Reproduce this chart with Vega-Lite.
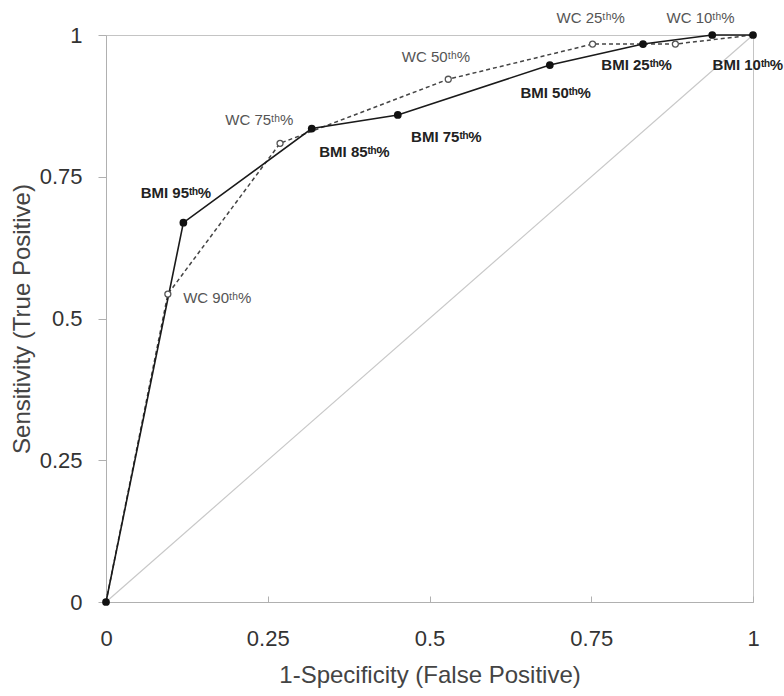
{
  "$schema": "https://vega.github.io/schema/vega-lite/v6.json",
  "width": 647,
  "height": 567,
  "autosize": {"type": "none"},
  "padding": {"left": 106, "top": 35, "right": 31, "bottom": 94},
  "background": "white",
  "config": {
    "font": "Liberation Sans",
    "view": {"stroke": "#c4c4c4", "strokeWidth": 1},
    "axis": {"grid": false, "labelFlush": false, "domainColor": "#b0b0b0", "tickColor": "#b0b0b0", "labelColor": "#333333", "titleColor": "#444444", "labelFontSize": 22, "titleFontSize": 24, "titleFontWeight": "normal", "labelFont": "Liberation Sans", "titleFont": "Liberation Sans"}
  },
  "datasets": {
    "curves": [
      {"series": "BMI", "order": 0, "x": 0, "y": 0},
      {"series": "BMI", "order": 1, "x": 0.1196, "y": 0.669},
      {"series": "BMI", "order": 2, "x": 0.318, "y": 0.835},
      {"series": "BMI", "order": 3, "x": 0.451, "y": 0.859},
      {"series": "BMI", "order": 4, "x": 0.686, "y": 0.947},
      {"series": "BMI", "order": 5, "x": 0.830, "y": 0.984},
      {"series": "BMI", "order": 6, "x": 0.937, "y": 1.0},
      {"series": "BMI", "order": 7, "x": 1, "y": 1},
      {"series": "WC", "order": 0, "x": 0, "y": 0},
      {"series": "WC", "order": 1, "x": 0.0956, "y": 0.543},
      {"series": "WC", "order": 2, "x": 0.269, "y": 0.809},
      {"series": "WC", "order": 3, "x": 0.529, "y": 0.922},
      {"series": "WC", "order": 4, "x": 0.752, "y": 0.984},
      {"series": "WC", "order": 5, "x": 0.880, "y": 0.984},
      {"series": "WC", "order": 6, "x": 1, "y": 1}
    ],
    "diag": [
      {"x": 0, "y": 0},
      {"x": 1, "y": 1}
    ],
    "labels": [
      {"series": "WC", "text": "WC 25ᵗʰ%", "x": 0.749, "y": 1.030},
      {"series": "WC", "text": "WC 10ᵗʰ%", "x": 0.919, "y": 1.030},
      {"series": "WC", "text": "WC 50ᵗʰ%", "x": 0.510, "y": 0.961},
      {"series": "WC", "text": "WC 75ᵗʰ%", "x": 0.237, "y": 0.850},
      {"series": "WC", "text": "WC 90ᵗʰ%", "x": 0.172, "y": 0.536},
      {"series": "BMI", "text": "BMI 95ᵗʰ%", "x": 0.108, "y": 0.721},
      {"series": "BMI", "text": "BMI 85ᵗʰ%", "x": 0.384, "y": 0.794},
      {"series": "BMI", "text": "BMI 75ᵗʰ%", "x": 0.526, "y": 0.820},
      {"series": "BMI", "text": "BMI 50ᵗʰ%", "x": 0.695, "y": 0.898},
      {"series": "BMI", "text": "BMI 25ᵗʰ%", "x": 0.820, "y": 0.947},
      {"series": "BMI", "text": "BMI 10ᵗʰ%", "x": 0.992, "y": 0.947}
    ]
  },
  "layer": [
    {
      "data": {"name": "diag"},
      "mark": {"type": "line", "color": "#c8c8c8", "strokeWidth": 1.2},
      "encoding": {
        "x": {"field": "x", "type": "quantitative", "scale": {"domain": [0, 1], "nice": false},
          "axis": {"values": [0, 0.25, 0.5, 0.75, 1], "format": "~g", "tickSize": -6, "labelPadding": 32, "title": "1-Specificity (False Positive)", "titlePadding": 14}},
        "y": {"field": "y", "type": "quantitative", "scale": {"domain": [0, 1], "nice": false},
          "axis": {"values": [0, 0.25, 0.5, 0.75, 1], "format": "~g", "tickSize": 8, "labelPadding": 16, "title": "Sensitivity (True Positive)", "titlePadding": 5}}
      }
    },
    {
      "data": {"name": "curves"},
      "transform": [{"filter": "datum.series === 'WC'"}],
      "mark": {"type": "line", "color": "#444444", "strokeWidth": 1.5, "strokeDash": [4, 3]},
      "encoding": {
        "x": {"field": "x", "type": "quantitative"},
        "y": {"field": "y", "type": "quantitative"},
        "order": {"field": "order"}
      }
    },
    {
      "data": {"name": "curves"},
      "transform": [{"filter": "datum.series === 'BMI'"}],
      "mark": {"type": "line", "color": "#1a1a1a", "strokeWidth": 1.6},
      "encoding": {
        "x": {"field": "x", "type": "quantitative"},
        "y": {"field": "y", "type": "quantitative"},
        "order": {"field": "order"}
      }
    },
    {
      "data": {"name": "curves"},
      "transform": [{"filter": "datum.series === 'WC' && datum.order > 0 && datum.order < 6"}],
      "mark": {"type": "point", "shape": "circle", "filled": false, "fill": "white", "stroke": "#555555", "strokeWidth": 1.3, "size": 36, "opacity": 1},
      "encoding": {
        "x": {"field": "x", "type": "quantitative"},
        "y": {"field": "y", "type": "quantitative"}
      }
    },
    {
      "data": {"name": "curves"},
      "transform": [{"filter": "datum.series === 'BMI'"}],
      "mark": {"type": "point", "shape": "circle", "filled": true, "color": "#111111", "size": 60, "opacity": 1},
      "encoding": {
        "x": {"field": "x", "type": "quantitative"},
        "y": {"field": "y", "type": "quantitative"}
      }
    },
    {
      "data": {"name": "labels"},
      "transform": [{"filter": "datum.series === 'WC'"}],
      "mark": {"type": "text", "fontSize": 15, "color": "#555555", "font": "Liberation Sans", "align": "center", "baseline": "middle"},
      "encoding": {
        "x": {"field": "x", "type": "quantitative"},
        "y": {"field": "y", "type": "quantitative"},
        "text": {"field": "text"}
      }
    },
    {
      "data": {"name": "labels"},
      "transform": [{"filter": "datum.series === 'BMI'"}],
      "mark": {"type": "text", "fontSize": 15, "fontWeight": "bold", "color": "#222222", "font": "Liberation Sans", "align": "center", "baseline": "middle"},
      "encoding": {
        "x": {"field": "x", "type": "quantitative"},
        "y": {"field": "y", "type": "quantitative"},
        "text": {"field": "text"}
      }
    }
  ]
}
